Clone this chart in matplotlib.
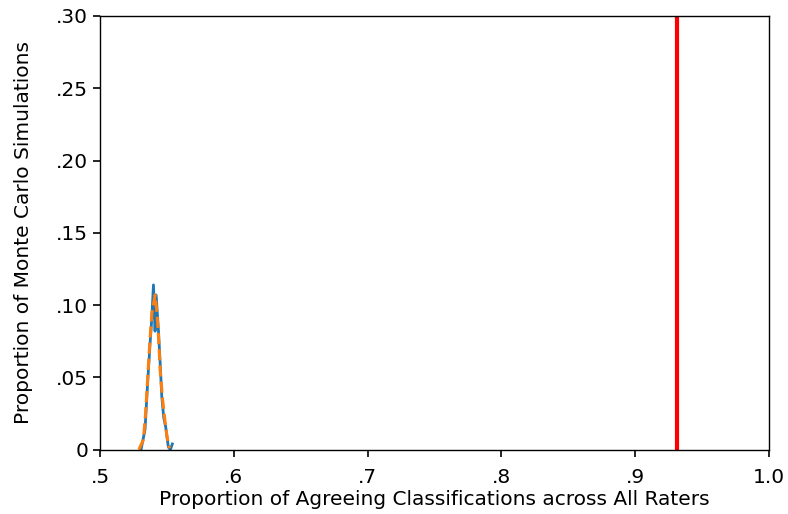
import matplotlib
matplotlib.use("Agg")
import matplotlib.pyplot as plt
import numpy as np

# Monte Carlo agreement distribution (observed vs. expected)
sim_x = [0.5306, 0.5336, 0.5354, 0.5374, 0.5386, 0.5399, 0.5411, 0.5419, 0.5436,
         0.5449, 0.5461, 0.5476, 0.5490, 0.5510, 0.5525, 0.5540]
sim_y = [0.000, 0.014, 0.044, 0.074, 0.090, 0.114, 0.082, 0.107, 0.083,
         0.060, 0.037, 0.022, 0.016, 0.002, 0.000, 0.004]

exp_x = [0.5290, 0.5324, 0.5340, 0.5356, 0.5372, 0.5388, 0.5400, 0.5411, 0.5425,
         0.5437, 0.5449, 0.5467, 0.5486, 0.5502, 0.5518]
exp_y = [0.000, 0.007, 0.025, 0.050, 0.075, 0.095, 0.101, 0.107, 0.095,
         0.078, 0.055, 0.035, 0.019, 0.008, 0.001]

observed = 0.931

x_ticks = [0.5, 0.6, 0.7, 0.8, 0.9, 1.0]
x_labels = ['.5', '.6', '.7', '.8', '.9', '1.0']
y_ticks = [0, 0.05, 0.10, 0.15, 0.20, 0.25, 0.30]
y_labels = ['0', '.05', '.10', '.15', '.20', '.25', '.30']


def main():
    fig, ax = plt.subplots(figsize=(7.88, 5.14), dpi=100)
    fig.subplots_adjust(left=0.127, right=0.976, top=0.969, bottom=0.125)

    ax.plot(sim_x, sim_y, color='#1f77b4', lw=2.0)
    ax.plot(exp_x, exp_y, color='#ff7f0e', lw=2.2, ls='--')
    ax.axvline(observed, color='red', lw=3.0)

    ax.set_xlim(0.5, 1.0)
    ax.set_ylim(0, 0.30)
    ax.set_xticks(x_ticks)
    ax.set_xticklabels(x_labels)
    ax.set_yticks(y_ticks)
    ax.set_yticklabels(y_labels)
    ax.tick_params(labelsize=14.5, length=5, width=1.2)
    ax.tick_params(axis='x', pad=8)
    for s in ax.spines.values():
        s.set_linewidth(1.0)

    ax.set_xlabel('Proportion of Agreeing Classifications across All Raters',
                  fontsize=14.5, labelpad=2.5)
    ax.set_ylabel('Proportion of Monte Carlo Simulations', fontsize=14.5,
                  labelpad=17)

    plt.savefig('out.png', dpi=100)
    plt.close()


if __name__ == "__main__":
    main()
